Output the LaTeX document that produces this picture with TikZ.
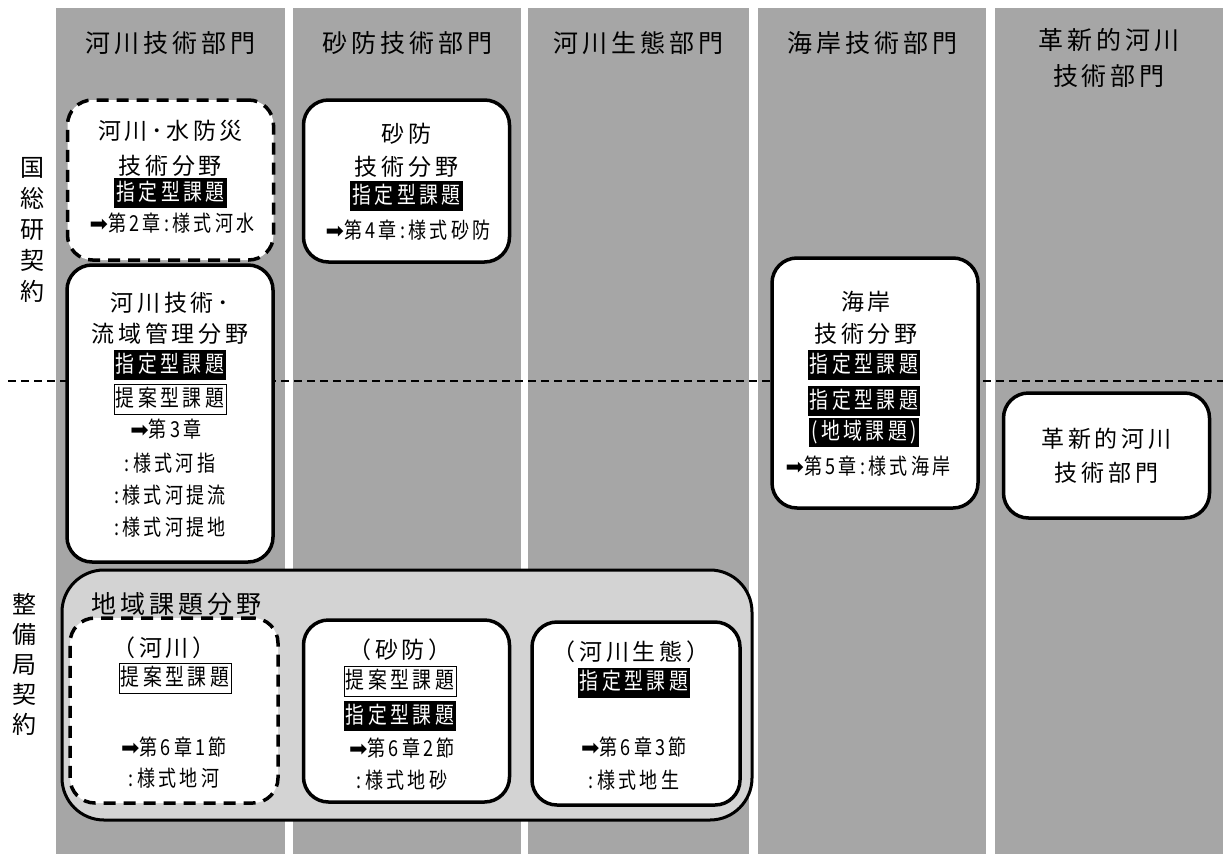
\documentclass[tikz,border=0pt]{standalone}
\usepackage{fontspec}
\setmainfont{Noto Sans CJK JP}
\newfontfamily\headfont{Noto Sans CJK JP}[LetterSpace=16]
\newfontfamily\tagfont{Noto Sans CJK JP}[LetterSpace=15,FakeStretch=0.82]
\newfontfamily\arrowfont{DejaVu Sans}
\newcommand{\chapto}{{\arrowfont ➡}}
\definecolor{colgray}{HTML}{A6A6A6}
\definecolor{areagray}{HTML}{D3D3D3}

\begin{document}
\begin{tikzpicture}[x=1pt,y=-1pt]
% Configurable parameters
\def\boxw{206pt}
\def\top{8}
\def\bottom{854}

% Styles
\tikzstyle{column}=[fill=colgray,draw=none]
\tikzstyle{divider}=[line width=2pt,dash pattern=on 8pt off 5pt]
\tikzstyle{header}=[font=\headfont\fontsize{25}{36}\selectfont,align=center,inner sep=0pt]
\tikzstyle{side}=[font=\fontsize{24}{31}\selectfont,align=center,inner sep=0pt]
\tikzstyle{field}=[draw,line width=3.5pt,rounded corners=25pt,fill=white,inner sep=0pt,minimum width=\boxw]
\tikzstyle{dashed field}=[field,dash pattern=on 12pt off 8pt]
\tikzstyle{area}=[draw,line width=3pt,rounded corners=42pt,fill=areagray]
\tikzstyle{title}=[font=\headfont\fontsize{23}{28}\selectfont,inner sep=0pt]
\tikzstyle{chapter}=[font=\tagfont\fontsize{22}{26}\selectfont,inner sep=0pt]
\tikzstyle{designated}=[fill=black,text=white,font=\tagfont\fontsize{23}{26}\selectfont,
  inner xsep=2pt,inner ysep=4pt,text height=18pt,text depth=4pt]
\tikzstyle{proposed}=[designated,fill=white,text=black,draw,line width=0.8pt]

% Canvas
\useasboundingbox (0,0) rectangle (1223,854);

% Columns (one per department)
\fill[column] (56,\top) rectangle (285,\bottom);
\fill[column] (293,\top) rectangle (521,\bottom);
\fill[column] (528,\top) rectangle (749,\bottom);
\fill[column] (758,\top) rectangle (986,\bottom);
\fill[column] (995,\top) rectangle (1223,\bottom);

% Column headers
\node[header] (kasen) at (170.5,43) {河川技術部門};
\node[header] (sabo) at (407,43) {砂防技術部門};
\node[header] (seitai) at (638,43) {河川生態部門};
\node[header] (kaigan) at (872,43) {海岸技術部門};
\node[header] (kakushin) at (1109,58) {革新的河川\\技術部門};

% Contract labels
\node[side] (kokusoken) at (32,230) {国\\総\\研\\契\\約};
\node[side,font=\fontsize{24}{30}\selectfont] (seibikyoku) at (24.5,664) {整\\備\\局\\契\\約};

% Border between the two contracts
\coordinate (L) at (8,381);
\coordinate (R) at (1223,381);
\draw[divider] (L) -- (R);

% Regional area
\draw[area] (62,570) rectangle (752,820);
\node[header] (chiiki) at (176,604) {地域課題分野};

% Upper row
\node[dashed field,minimum height=160pt] (suibou) at (170.5,180) {};
\node[title] (suibou1) at (170.5,131) {河川･水防災};
\node[title] (suibou2) at (170.5,166) {技術分野};
\node[designated] (suibou3) at (170.5,193) {指定型課題};
\node[chapter] (suibou4) at (172,223) {\chapto 第2章:様式河水};

\node[field,minimum height=162pt] (sabof) at (406.5,181) {};
\node[title] (sabof1) at (406.5,134) {砂防};
\node[title] (sabof2) at (406.5,167) {技術分野};
\node[designated] (sabof3) at (406.5,196) {指定型課題};
\node[chapter] (sabof4) at (408,230) {\chapto 第4章:様式砂防};

\node[field,minimum height=297pt] (ryuiki) at (170,413.5) {};
\node[title] (ryuiki1) at (170,303) {河川技術･};
\node[title] (ryuiki2) at (170,334) {流域管理分野};
\node[designated] (ryuiki3) at (170,365) {指定型課題};
\node[proposed] (ryuiki4) at (170,399) {提案型課題};
\node[chapter] (ryuiki5) at (166,429) {\chapto 第3章};
\node[chapter] (ryuiki6) at (170,463) {:様式河指};
\node[chapter] (ryuiki7) at (170,495) {:様式河提流};
\node[chapter] (ryuiki8) at (170,527) {:様式河提地};

\node[field,minimum height=250pt] (kaiganf) at (875,383) {};
\node[title] (kaiganf1) at (866,302) {海岸};
\node[title] (kaiganf2) at (866,334) {技術分野};
\node[designated] (kaiganf3) at (864,365) {指定型課題};
\node[designated] (kaiganf4) at (864,401) {指定型課題};
\node[designated,inner ysep=3.5pt] (kaiganf5) at (864,432.5) {(地域課題)};
\node[chapter] (kaiganf6) at (868,466) {\chapto 第5章:様式海岸};

\node[field,minimum height=125pt] (kakushinf) at (1106.5,455.5) {};
\node[title] (kakushinf1) at (1106.5,439) {革新的河川};
\node[title] (kakushinf2) at (1106.5,473) {技術部門};

% Regional row
\node[dashed field,minimum width=208pt,minimum height=185pt] (chikasen) at (174,710.5) {};
\node[title] (chikasen1) at (164,648) {（河川）};
\node[proposed] (chikasen2) at (175,678) {提案型課題};
\node[chapter] (chikasen3) at (174,747) {\chapto 第6章1節};
\node[chapter] (chikasen4) at (174,778) {:様式地河};

\node[field,minimum height=182pt] (chisabo) at (406.5,711) {};
\node[title] (chisabo1) at (400,650) {（砂防）};
\node[proposed] (chisabo2) at (400,681) {提案型課題};
\node[designated] (chisabo3) at (400,716) {指定型課題};
\node[chapter] (chisabo4) at (402,748) {\chapto 第6章2節};
\node[chapter] (chisabo5) at (402,780) {:様式地砂};

\node[field,minimum width=208pt,minimum height=183pt] (chiseitai) at (636,713.5) {};
\node[title] (chiseitai1) at (631,652) {（河川生態）};
\node[designated] (chiseitai2) at (634,682.5) {指定型課題};
\node[chapter] (chiseitai3) at (634,747) {\chapto 第6章3節};
\node[chapter] (chiseitai4) at (634,780) {:様式地生};
\end{tikzpicture}
\end{document}
